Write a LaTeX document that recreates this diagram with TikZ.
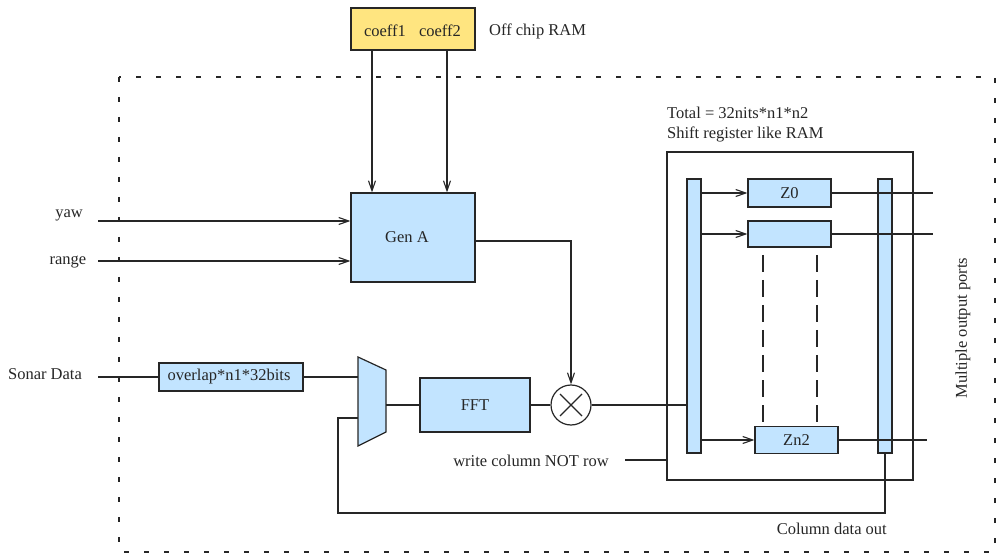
\documentclass[tikz,border=0pt]{standalone}
\usepackage{fontspec}
\setmainfont{Liberation Serif}
\usetikzlibrary{arrows.meta}
\definecolor{blk}{RGB}{194,228,255}
\definecolor{ylw}{RGB}{255,229,128}
\begin{document}
\begin{tikzpicture}[x=1pt,y=-1pt,
  every node/.style={font=\fontsize{16.5}{19}\selectfont, inner sep=0pt},
  wire/.style={line width=1.1pt, draw=black!85},
  arr/.style={wire, -{Straight Barb[length=10pt,width=7pt]}},
  box/.style={draw=black!85, line width=1.2pt, fill=blk, rectangle, inner sep=0pt},
  lbl/.style={text=black!85}]
\useasboundingbox (0,0) rectangle (997,556);
% dotted chip boundary
\draw[line width=1.3pt, dash pattern=on 5pt off 15pt, draw=black!85] (119,77) rectangle (995,552);

% off-chip RAM
\node[box, fill=ylw, minimum width=124pt, minimum height=42pt] (coeff) at (413,29) {};
\node[lbl] (c1t) at (385,31) {coeff1};
\node[lbl] (c2t) at (440,31) {coeff2};
\node[lbl, anchor=west] (offram) at (489,31) {Off chip RAM};

% Gen A
\node[box, minimum width=124pt, minimum height=89pt] (genA) at (413,237.5) {};
\node[lbl] (genAt) at (407,237) {Gen A};
\coordinate (c1) at (372,0);
\coordinate (c2) at (447,0);
\draw[arr] (coeff.south -| c1) -- (genA.north -| c1);
\draw[arr] (coeff.south -| c2) -- (genA.north -| c2);

% yaw / range
\node[lbl] (yaw) at (69,215) {yaw};
\node[lbl] (range) at (68,262) {range};
\coordinate (yawin) at (98,221);
\coordinate (rangein) at (98,261);
\draw[arr] (yawin) -- (yawin -| genA.west);
\draw[arr] (rangein) -- (rangein -| genA.west);

% Sonar data path
\node[lbl] (sonar) at (45,374) {Sonar Data};
\node[box, minimum width=144pt, minimum height=28pt] (ov) at (231,377) {};
\node[lbl] (ovt) at (229,377) {overlap*n1*32bits};
\coordinate (sonin) at (98,377);
\draw[wire] (sonin) -- (ov.west);

% mux
\coordinate (muxTL) at (358,357);
\coordinate (muxBL) at (358,446);
\coordinate (muxTR) at (386,370);
\coordinate (muxBR) at (386,432);
\coordinate (muxin1) at (358,377);
\coordinate (muxin2) at (358,418);
\coordinate (muxout) at (386,405);
\draw[line width=1.2pt, draw=black!85, fill=blk] (muxTL) -- (muxTR) -- (muxBR) -- (muxBL) -- cycle;
\draw[wire] (ov.east) -- (muxin1);

% FFT and multiplier
\node[box, minimum width=110pt, minimum height=54pt] (fft) at (475,405) {};
\node[lbl] (fftt) at (475,405) {FFT};
\draw[wire] (muxout) -- (fft.west);
\node[circle, draw=black!85, line width=1.2pt, fill=white, minimum size=40pt] (mul) at (571,405) {};
\draw[wire] ([shift={(-11,-11)}]mul.center) -- ([shift={(11,11)}]mul.center);
\draw[wire] ([shift={(-11,11)}]mul.center) -- ([shift={(11,-11)}]mul.center);
\draw[wire] (fft.east) -- (mul.west);
\coordinate (gaout) at (475,241);
\draw[arr] (gaout) -- (gaout -| mul.north) -- (mul.north);

% register RAM
\node[lbl, anchor=west] (tot) at (667,113) {Total = 32nits*n1*n2};
\node[lbl, anchor=west] (shr) at (667,134) {Shift register like RAM};
\node[draw=black!85, line width=1.2pt, rectangle, minimum width=246pt, minimum height=328pt] (outer) at (790,316) {};
\node[box, minimum width=14pt, minimum height=274pt] (lbar) at (694,316) {};
\node[box, minimum width=14pt, minimum height=274pt] (rbar) at (885,316) {};
\node[box, minimum width=83pt, minimum height=28pt] (z0) at (789.5,193) {};
\node[lbl] (z0t) at (789.5,193) {Z0};
\node[box, minimum width=83pt, minimum height=26pt] (z1) at (789.5,234) {};
\node[box, minimum width=83pt, minimum height=27pt] (zn) at (796.5,440) {};
\node[lbl] (znt) at (796.5,440) {Zn2};
\draw[arr] (z0.west -| lbar.east) -- (z0.west);
\draw[arr] (z1.west -| lbar.east) -- (z1.west);
\draw[arr] (zn.west -| lbar.east) -- (zn.west);
\coordinate (o0) at (933,193);
\coordinate (o1) at (933,234);
\coordinate (o2) at (927,440);
\draw[wire] (z0.east) -- (o0);
\draw[wire] (z1.east) -- (o1);
\draw[wire] (zn.east) -- (o2);
\coordinate (d1) at (763,255);
\coordinate (d2) at (817,255);
\draw[wire, dash pattern=on 17pt off 8pt] (d1) -- (d1 |- zn.north);
\draw[wire, dash pattern=on 17pt off 8pt] (d2) -- (d2 |- zn.north);
\draw[wire] (mul.east) -- (mul.east -| lbar.west);

% write column
\node[lbl] (wcn) at (531,461) {write column NOT row};
\coordinate (wcl) at (625,460);
\draw[wire] (wcl) -- (wcl -| outer.west);

% feedback
\coordinate (fb) at (338,513);
\draw[wire] (rbar.south) -- (rbar.south |- fb) -- (fb) -- (fb |- muxin2) -- (muxin2);
\node[lbl, anchor=east] (cdo) at (887,529) {Column data out};

\node[lbl, rotate=90] (mop) at (963,328) {Multiple output ports};
\end{tikzpicture}
\end{document}
